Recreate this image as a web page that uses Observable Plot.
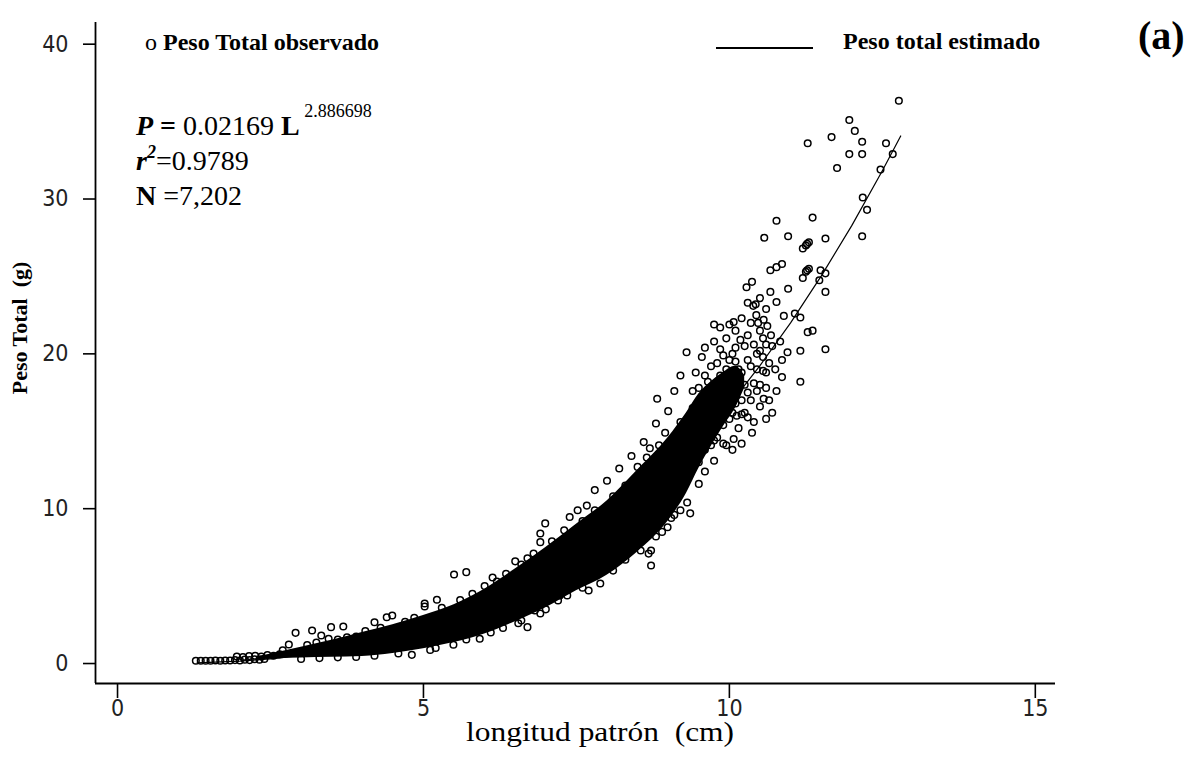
<!DOCTYPE html>
<html>
<head>
<meta charset="utf-8">
<script src="https://cdn.jsdelivr.net/npm/d3@7"></script>
<script src="https://cdn.jsdelivr.net/npm/@observablehq/plot@0.6"></script>
<style>
  body { margin: 0; background: #fff; }
  #chart { width: 1200px; height: 757px; }
</style>
</head>
<body>
<div id="chart"></div>
<script>
// Length–weight relationship: observed total weight (g) against standard length (cm).

// Axis setup
const xDomain = [-0.36, 15.33];
const yDomain = [-1.29, 41.4];
const xTicks = [0, 5, 10, 15];
const yTicks = [0, 10, 20, 30, 40];

// Dense core of the observations: lower and upper limits of the solid cloud
const bandL    = [2.3, 2.6, 3.0, 3.5, 4.0, 4.5, 5.0, 5.5, 6.0, 6.5, 7.0, 7.5, 8.0, 8.5, 9.0, 9.3, 9.5, 9.7, 9.9, 10.1, 10.25];
const bandLow  = [0.25, 0.3, 0.35, 0.4, 0.45, 0.65, 0.95, 1.35, 1.9, 2.7, 3.6, 4.7, 5.7, 7.2, 9.2, 11.0, 12.6, 14.0, 15.3, 16.5, 17.8];
const bandHigh = [0.45, 0.7, 1.05, 1.5, 2.0, 2.5, 3.1, 3.8, 4.8, 6.1, 7.5, 9.0, 10.5, 12.5, 14.6, 16.2, 17.4, 18.2, 18.8, 19.2, 18.6];

// Individual fish [length, weight] — smallest sizes
const obsSmall = [
  [1.28, 0.18], [1.36, 0.18], [1.44, 0.18], [1.52, 0.18], [1.60, 0.2], [1.68, 0.18],
  [1.76, 0.2], [1.84, 0.2], [1.92, 0.22], [2.0, 0.2], [2.08, 0.25], [2.16, 0.22],
  [2.24, 0.28], [2.32, 0.25], [2.4, 0.3], [1.95, 0.45], [2.05, 0.42], [2.15, 0.48],
  [2.25, 0.5], [2.35, 0.45], [2.45, 0.55], [2.55, 0.5], [2.65, 0.6]
];

// Fish above the main cloud
const obsAbove = [
  [2.91, 1.98], [2.80, 1.23], [3.18, 2.13], [3.49, 2.35], [3.69, 2.39], [3.33, 1.81],
  [3.45, 1.6], [3.6, 1.55], [3.75, 1.7], [3.9, 1.75], [4.2, 2.67], [4.40, 2.99],
  [4.49, 3.1], [5.02, 3.68], [5.02, 3.88], [5.22, 4.12], [5.50, 5.75], [5.70, 5.9],
  [6.13, 5.56], [6.5, 6.6], [6.70, 6.8], [6.91, 8.4], [6.91, 7.84], [6.99, 9.05],
  [7.39, 9.46], [7.52, 9.9], [7.67, 10.2], [7.8, 11.2], [8.0, 11.8], [8.2, 12.6],
  [8.4, 13.4], [8.6, 14.3], [8.8, 15.5], [8.82, 17.1], [9.0, 16.3], [9.1, 17.6],
  [9.3, 20.1], [9.2, 18.6], [8.95, 14.9], [8.7, 13.9],
  [5.3, 3.6], [5.6, 4.1], [5.8, 4.5], [6.0, 5.0], [6.2, 5.3], [6.35, 5.8], [6.6, 6.4],
  [6.8, 7.1], [7.1, 7.9], [7.3, 8.6], [7.6, 9.2], [7.8, 9.9], [8.1, 10.8], [8.3, 11.5],
  [8.5, 12.7], [8.65, 13.3], [8.85, 14.1],
  [2.7, 0.85], [3.1, 1.2], [3.25, 1.35], [4.05, 2.1], [4.3, 2.3], [4.7, 2.7], [4.85, 2.95]
];

// Fish below the main cloud
const obsBelow = [
  [3.0, 0.3], [3.3, 0.35], [3.6, 0.4], [3.9, 0.42], [4.2, 0.5],
  [4.59, 0.65], [4.81, 0.56], [5.11, 0.88], [5.49, 1.21], [5.92, 1.6], [6.70, 2.35],
  [6.6, 2.78], [6.82, 3.43], [6.91, 3.23], [7.2, 4.07], [7.23, 4.4], [7.7, 4.72],
  [7.89, 5.17], [7.89, 5.9], [7.39, 5.26], [7.55, 5.5], [8.33, 7.8], [8.43, 7.52],
  [8.43, 8.16], [8.72, 7.3], [8.72, 6.33], [8.68, 7.1], [8.9, 8.5], [8.99, 8.8],
  [9.05, 9.4], [9.2, 9.9], [9.31, 10.4], [9.36, 9.7], [9.5, 11.6], [9.6, 12.4],
  [9.75, 13.1], [9.75, 14.4],
  [5.2, 1.0], [5.7, 1.55], [6.1, 2.0], [6.3, 2.3], [6.55, 2.6], [7.0, 3.5], [7.35, 4.4],
  [7.6, 4.9], [8.1, 6.0], [8.3, 6.7], [8.55, 7.3], [8.8, 8.2], [9.1, 9.6]
];

// Largest fish, where the cloud thins out
const obsLarge = [
  [9.55, 19.8], [9.6, 18.6], [9.65, 17.4], [9.7, 19.2], [9.75, 16.6], [9.8, 18.0],
  [9.85, 20.3], [9.9, 17.2], [9.95, 19.0], [10.0, 15.8], [10.0, 18.3], [10.05, 20.0],
  [10.1, 16.8], [10.1, 19.5], [10.15, 17.8], [10.15, 15.2], [10.2, 18.8], [10.25, 16.2],
  [10.25, 20.5], [10.3, 17.5], [10.35, 19.2], [10.4, 15.6], [10.4, 18.1], [10.45, 20.0],
  [10.5, 16.6], [10.55, 18.9], [10.6, 17.8], [10.6, 15.8], [9.6, 16.0], [9.7, 15.0],
  [9.8, 14.6], [9.9, 15.4], [9.5, 17.8], [9.45, 18.8], [9.4, 16.5], [10.2, 14.2],
  [10.05, 13.8], [9.95, 14.1], [10.3, 21.2], [10.1, 21.5], [9.95, 21.0], [9.75, 20.8],
  [10.65, 19.4], [10.7, 16.2], [10.07, 14.5], [10.37, 14.9], [9.85, 21.7], [10.07, 22.06],
  [10.47, 22.0], [10.5, 21.5], [10.55, 21.0], [10.6, 20.6], [10.5, 20.2], [10.44, 22.5],
  [10.56, 22.2], [10.62, 21.8], [10.68, 21.2], [10.83, 20.8], [10.43, 23.2],
  [10.39, 23.1], [10.77, 23.35], [11.07, 22.6], [10.89, 22.45], [11.16, 22.35],
  [11.28, 21.4], [11.36, 21.5], [10.95, 20.1], [11.16, 20.2], [11.57, 20.3], [10.86, 19.6],
  [10.77, 17.6], [11.16, 18.2], [10.56, 17.1], [10.86, 18.5],
  [9.35, 13.5], [9.4, 14.2], [9.45, 15.1], [9.5, 13.0], [9.5, 15.8], [9.55, 14.5],
  [9.55, 16.9], [9.6, 13.8], [9.65, 15.6], [9.65, 18.2], [9.7, 14.1], [9.7, 16.4],
  [9.75, 17.9], [9.8, 15.8], [9.8, 19.4], [9.85, 16.1], [9.85, 18.6], [9.9, 14.2],
  [9.9, 19.9], [9.95, 16.5], [9.95, 17.9], [10.0, 17.0], [10.0, 19.6], [10.05, 16.2],
  [10.05, 18.0], [10.1, 17.3], [10.1, 18.2], [10.1, 20.4], [10.12, 16.0], [10.15, 19.0],
  [10.18, 20.9], [10.2, 17.0], [10.2, 16.1], [10.25, 18.0], [10.3, 19.6], [10.3, 15.9],
  [10.35, 17.0], [10.4, 20.6], [10.45, 17.6], [10.45, 19.0], [10.5, 18.0], [10.55, 19.8],
  [10.6, 18.8], [10.65, 17.0], [10.7, 20.5], [10.75, 19.0], [9.25, 14.8], [9.2, 15.6],
  [9.15, 13.6], [9.4, 17.6], [9.6, 20.4], [9.75, 21.9], [10.0, 21.9], [10.2, 22.3],
  [10.35, 22.0], [10.3, 23.3], [10.5, 23.6], [10.6, 22.9],
  [10.37, 24.65], [10.28, 24.3], [10.96, 24.2], [10.67, 24.0], [10.67, 25.4], [10.77, 25.6],
  [10.86, 25.8], [11.27, 25.4], [11.25, 25.3], [11.3, 25.5], [11.2, 24.9], [11.49, 25.4],
  [11.57, 25.2], [11.47, 24.75], [11.57, 24.0], [10.57, 27.5], [10.96, 27.6], [11.57, 27.45],
  [12.17, 27.6], [11.27, 27.1], [11.25, 27.0], [11.3, 27.2], [11.2, 26.8], [10.77, 28.6],
  [11.36, 28.8], [12.25, 29.3], [12.18, 30.1], [12.47, 31.9], [12.67, 32.9], [11.76, 32.0],
  [11.96, 32.9], [12.17, 32.9], [11.28, 33.6], [11.67, 34.0], [12.17, 33.7], [12.56, 33.6],
  [12.05, 34.4], [11.96, 35.1], [12.77, 36.35]
];

// Estimated total weight, P = 0.02169 L^2.886698
const fitL = [1.3, 1.5, 2, 2.5, 3, 3.5, 4, 4.5, 5, 5.5, 6, 6.5, 7, 7.5, 8, 8.5, 9, 9.5, 10, 10.5, 11, 11.5, 12, 12.5, 12.8];
const fitP = [0.046, 0.070, 0.160, 0.306, 0.517, 0.807, 1.186, 1.667, 2.260, 2.975, 3.824, 4.818, 5.967, 7.281, 8.776, 10.45, 12.33, 14.41, 16.71, 19.24, 22.00, 25.02, 28.28, 31.83, 34.07];

const observed = [...obsSmall, ...obsAbove, ...obsBelow, ...obsLarge].map(([L, P]) => ({L, P}));
const band = bandL.map((L, i) => ({L, lo: bandLow[i], hi: bandHigh[i]}));
const fit = fitL.map((L, i) => ({L, P: fitP[i]}));

const chart = Plot.plot({
  width: 1200,
  height: 757,
  marginLeft: 95,
  marginRight: 145,
  marginTop: 22,
  marginBottom: 74,
  style: {
    fontFamily: '"DejaVu Sans Condensed", "DejaVu Sans", sans-serif',
    fontSize: "23px",
    color: "#000",
    background: "#fff"
  },
  x: {domain: xDomain},
  y: {domain: yDomain},
  marks: [
    Plot.axisX({ticks: xTicks, tickSize: 15, tickPadding: 1, label: null, strokeWidth: 1.6, fill: "#222"}),
    Plot.axisY({ticks: yTicks, tickSize: 12, tickPadding: 15, label: null, strokeWidth: 1.6, fill: "#222"}),
    Plot.ruleX([xDomain[0]], {stroke: "#000", strokeWidth: 1.8}),
    Plot.ruleY([yDomain[0]], {stroke: "#000", strokeWidth: 1.8}),
    Plot.areaY(band, {x: "L", y1: "lo", y2: "hi", fill: "#000", curve: "monotone-x"}),
    Plot.line(fit, {x: "L", y: "P", stroke: "#000", strokeWidth: 1.2}),
    Plot.dot(observed, {x: "L", y: "P", r: 3.3, stroke: "#000", strokeWidth: 1.5, fill: "none"})
  ]
});

document.getElementById("chart").appendChild(chart);

// Legend, equation and axis titles
const svg = d3.select(chart);
const serif = '"Liberation Serif", "Times New Roman", serif';
const ann = svg.append("g")
  .style("font-family", serif)
  .attr("fill", "#000")
  .attr("text-anchor", "start")
  .style("white-space", "pre");

const obsLegend = ann.append("text").attr("x", 145).attr("y", 50).attr("font-size", 24);
obsLegend.append("tspan").text("o ");
obsLegend.append("tspan").attr("font-weight", "bold").text("Peso Total observado");

ann.append("line").attr("x1", 716).attr("x2", 813).attr("y1", 48).attr("y2", 48)
  .attr("stroke", "#000").attr("stroke-width", 2);
ann.append("text").attr("x", 843).attr("y", 49).attr("font-size", 24).attr("font-weight", "bold")
  .text("Peso total estimado");

ann.append("text").attr("x", 1138).attr("y", 49).attr("font-size", 40).attr("font-weight", "bold")
  .text("(a)");

const eq1 = ann.append("text").attr("x", 136).attr("y", 135).attr("font-size", 28);
eq1.append("tspan").attr("font-weight", "bold").attr("font-style", "italic").text("P");
eq1.append("tspan").attr("font-weight", "bold").text(" = ");
eq1.append("tspan").text("0.02169 ");
eq1.append("tspan").attr("font-weight", "bold").text("L");
eq1.append("tspan").attr("font-size", 18).attr("dy", -18).text(" 2.886698");

const eq2 = ann.append("text").attr("x", 136).attr("y", 170).attr("font-size", 28);
eq2.append("tspan").attr("font-weight", "bold").attr("font-style", "italic").text("r");
eq2.append("tspan").attr("font-weight", "bold").attr("font-style", "italic").attr("font-size", 18).attr("dy", -12).text("2");
eq2.append("tspan").attr("dy", 12).text("=0.9789");

const eq3 = ann.append("text").attr("x", 136).attr("y", 205).attr("font-size", 28);
eq3.append("tspan").attr("font-weight", "bold").text("N");
eq3.append("tspan").text(" =7,202");

ann.append("text")
  .attr("transform", "translate(27,328) rotate(-90)")
  .attr("text-anchor", "middle")
  .attr("font-size", 22)
  .attr("font-weight", "bold")
  .text("Peso Total\u00a0\u00a0(g)");

ann.append("text")
  .attr("x", 600).attr("y", 741)
  .attr("text-anchor", "middle")
  .attr("font-size", 27)
  .attr("textLength", 268)
  .attr("lengthAdjust", "spacingAndGlyphs")
  .text("longitud patrón\u00a0\u00a0(cm)");
</script>
</body>
</html>
